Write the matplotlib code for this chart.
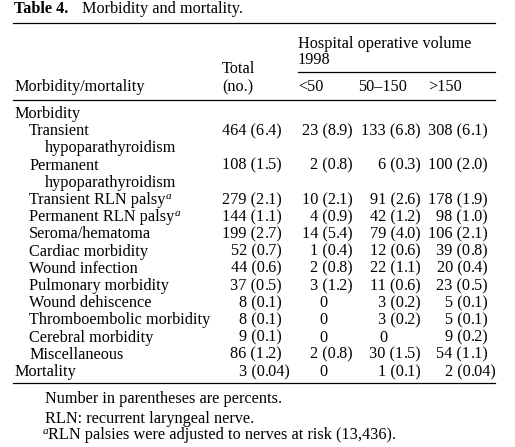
import matplotlib
matplotlib.use("Agg")
import matplotlib.pyplot as plt

# ---- data ----
title_bold = "Table 4."
title_rest = "Morbidity and mortality."
group_header = ["Hospital operative volume", "1998"]
col_headers = ["Total", "(no.)"]
volume_labels = ["<50", "50\u2013150", ">150"]
row_label_header = "Morbidity/mortality"

# (label, indent level, footnote mark)
row_labels = [
    ("Morbidity", 0, ""),
    ("Transient", 1, ""),
    ("hypoparathyroidism", 2, ""),
    ("Permanent", 1, ""),
    ("hypoparathyroidism", 2, ""),
    ("Transient RLN palsy", 1, "a"),
    ("Permanent RLN palsy", 1, "a"),
    ("Seroma/hematoma", 1, ""),
    ("Cardiac morbidity", 1, ""),
    ("Wound infection", 1, ""),
    ("Pulmonary morbidity", 1, ""),
    ("Wound dehiscence", 1, ""),
    ("Thromboembolic morbidity", 1, ""),
    ("Cerebral morbidity", 1, ""),
    ("Miscellaneous", 1, ""),
    ("Mortality", 0, ""),
]

# value cells by row index (rows without values omitted)
total_vals = {1: "464 (6.4)", 3: "108 (1.5)", 5: "279 (2.1)", 6: "144 (1.1)",
              7: "199 (2.7)", 8: "52 (0.7)", 9: "44 (0.6)", 10: "37 (0.5)",
              11: "8 (0.1)", 12: "8 (0.1)", 13: "9 (0.1)", 14: "86 (1.2)",
              15: "3 (0.04)"}
lt50_vals = {1: "23 (8.9)", 3: "2 (0.8)", 5: "10 (2.1)", 6: "4 (0.9)",
             7: "14 (5.4)", 8: "1 (0.4)", 9: "2 (0.8)", 10: "3 (1.2)",
             11: "0", 12: "0", 13: "0", 14: "2 (0.8)", 15: "0"}
mid_vals = {1: "133 (6.8)", 3: "6 (0.3)", 5: "91 (2.6)", 6: "42 (1.2)",
            7: "79 (4.0)", 8: "12 (0.6)", 9: "22 (1.1)", 10: "11 (0.6)",
            11: "3 (0.2)", 12: "3 (0.2)", 13: "0", 14: "30 (1.5)", 15: "1 (0.1)"}
gt150_vals = {1: "308 (6.1)", 3: "100 (2.0)", 5: "178 (1.9)", 6: "98 (1.0)",
              7: "106 (2.1)", 8: "39 (0.8)", 9: "20 (0.4)", 10: "23 (0.5)",
              11: "5 (0.1)", 12: "5 (0.1)", 13: "9 (0.2)", 14: "54 (1.1)",
              15: "2 (0.04)"}

footnotes = [("", "Number in parentheses are percents."),
             ("", "RLN: recurrent laryngeal nerve."),
             ("a", "RLN palsies were adjusted to nerves at risk (13,436).")]

# ---- layout ----
W, H = 515, 447
fig = plt.figure(figsize=(W / 100, H / 100), dpi=100)
ax = fig.add_axes([0, 0, 1, 1])
ax.set_xlim(0, W)
ax.set_ylim(H, 0)
ax.axis('off')
renderer = fig.canvas.get_renderer()

FONT = 'Liberation Serif'
FS = 11.7
kw = dict(family=FONT, fontsize=FS, va='baseline', color='black')
sup_kw = dict(family=FONT, fontsize=8, style='italic', va='baseline',
              color='black', ha='left')


def text_right_edge(t):
    bb = t.get_window_extent(renderer=renderer)
    inv = ax.transData.inverted()
    return inv.transform((bb.x1, bb.y0))[0]


# title
ax.text(14, 13, title_bold, fontweight='bold', ha='left', **kw)
ax.text(82, 13, title_rest, ha='left', **kw)

# rules
lw = 0.9
ax.plot([13, 495], [22.5, 22.5], color='black', lw=lw)
ax.plot([298, 495], [72, 72], color='black', lw=lw)
ax.plot([13, 495], [100, 100], color='black', lw=lw)
ax.plot([13, 495], [383, 383], color='black', lw=lw)

# headers
ax.text(298, 48, group_header[0], ha='left', **kw)
ax.text(298, 64, group_header[1], ha='left', **kw)
ax.text(222, 73, col_headers[0], ha='left', **kw)
ax.text(222, 91, col_headers[1], ha='left', **kw)
ax.text(14, 91, row_label_header, ha='left', **kw)
for x, lab in zip([298, 358, 428], volume_labels):
    ax.text(x, 91, lab, ha='left', **kw)

# rows
indent_x = [14, 29, 45]
y0, dy = 118, 17.2
for i, (lab, lev, mark) in enumerate(row_labels):
    y = y0 + i * dy
    t = ax.text(indent_x[lev], y, lab, ha='left', **kw)
    if mark:
        ax.text(text_right_edge(t) + 0.5, y - 5, mark, **sup_kw)

dec_x = [266, 337, 405, 472]
zero_x = [None, 323, 383, None]
for c, vals in enumerate([total_vals, lt50_vals, mid_vals, gt150_vals]):
    for i, s in vals.items():
        y = y0 + i * dy
        if s == "0":
            ax.text(zero_x[c], y, "0", ha='center', **kw)
            continue
        k = s.index('.')
        ax.text(dec_x[c] - 1.5, y, s[:k], ha='right', **kw)
        ax.text(dec_x[c] - 1.5, y, s[k:], ha='left', **kw)

# footnotes
for fy, (mark, fn) in zip([403, 423, 439], footnotes):
    if mark:
        ax.text(43, fy - 5, mark, **sup_kw)
        ax.text(48, fy, fn, ha='left', **kw)
    else:
        ax.text(45, fy, fn, ha='left', **kw)

fig.savefig('out.png', dpi=100, facecolor='white')
